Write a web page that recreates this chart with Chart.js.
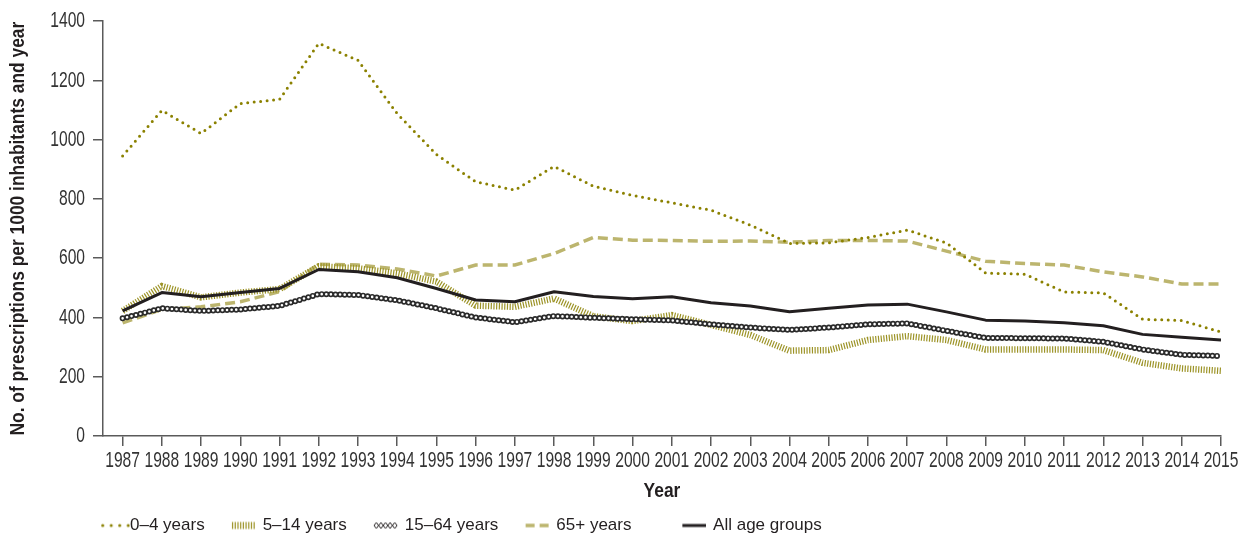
<!DOCTYPE html>
<html>
<head>
<meta charset="utf-8">
<script src="https://cdn.jsdelivr.net/npm/chart.js@4.4.1/dist/chart.umd.min.js"></script>
<style>
  html, body { margin: 0; padding: 0; background: #ffffff; }
  #wrap { width: 1245px; height: 538px; }
</style>
</head>
<body>
<div id="wrap"><canvas id="chart" width="1245" height="538"></canvas></div>
<script>
// Prescriptions per 1000 inhabitants and year, by age group
const years = [1987, 1988, 1989, 1990, 1991, 1992, 1993, 1994, 1995, 1996, 1997, 1998, 1999, 2000,
               2001, 2002, 2003, 2004, 2005, 2006, 2007, 2008, 2009, 2010, 2011, 2012, 2013, 2014, 2015];
const age0to4   = [945, 1099, 1021, 1122, 1136, 1325, 1268, 1088, 950, 858, 830, 910, 843, 812,
                   787, 762, 712, 650, 652, 670, 695, 652, 550, 546, 486, 483, 394, 390, 351];
const age5to14  = [422, 506, 468, 484, 496, 573, 566, 549, 521, 440, 436, 464, 404, 388,
                   408, 375, 341, 288, 290, 324, 337, 324, 292, 292, 292, 290, 247, 228, 220];
const age15to64 = [397, 431, 422, 427, 439, 479, 476, 458, 431, 400, 384, 405, 399, 394,
                   390, 377, 366, 358, 366, 377, 380, 355, 331, 330, 329, 318, 292, 274, 270];
const age65plus = [382, 427, 436, 453, 487, 580, 577, 564, 540, 577, 577, 616, 670, 661,
                   660, 657, 658, 654, 660, 660, 658, 624, 590, 582, 577, 554, 537, 513, 513];
const allAges   = [422, 484, 470, 484, 498, 562, 554, 534, 498, 459, 453, 487, 471, 463,
                   470, 450, 439, 419, 431, 442, 445, 419, 391, 388, 382, 372, 343, 333, 324];
const yTicks = [0, 200, 400, 600, 800, 1000, 1200, 1400];

const FONT = "'Liberation Sans', Arimo, Arial, sans-serif";
const AXIS = '#5a5a5a';
const TEXT = '#333333';
const C_DOT = '#8b8100', C_STRIPE = '#9c9326', C_DASH = '#bcb56e', C_DARK = '#231f20';

const pts = arr => years.map((yr, i) => ({ x: yr, y: arr[i] }));

// Condensed lettering: axis texts are drawn horizontally narrowed
const canvas = document.getElementById('chart');
const ctx2d = canvas.getContext('2d');
const baseFill = ctx2d.fillText.bind(ctx2d);
const baseMeasure = ctx2d.measureText.bind(ctx2d);
function squeeze() {
  const f = ctx2d.font;
  if (/bold|[6-9]00/.test(f)) return 0.87;
  const m = f.match(/(\d+(?:\.\d+)?)px/);
  if (m && parseFloat(m[1]) === 22) return 0.71;
  return 1;
}
ctx2d.measureText = function (t) {
  const m = baseMeasure(t);
  const k = squeeze();
  if (k === 1) return m;
  return { width: m.width * k,
           actualBoundingBoxAscent: m.actualBoundingBoxAscent,
           actualBoundingBoxDescent: m.actualBoundingBoxDescent,
           actualBoundingBoxLeft: m.actualBoundingBoxLeft * k,
           actualBoundingBoxRight: m.actualBoundingBoxRight * k };
};
ctx2d.fillText = function (t, x, y, mw) {
  const k = squeeze();
  if (k === 1) { if (mw === undefined) baseFill(t, x, y); else baseFill(t, x, y, mw); return; }
  const w = baseMeasure(t).width * k;
  baseFill(t, x, y, mw === undefined ? w : Math.min(w, mw));
};

// Legend glyphs: line sample right-aligned in a small transparent canvas
const SAMPLE_H = 12;
function makeSample(kind) {
  const c = document.createElement('canvas');
  c.width = kind === 'dots' ? 62 : 48; c.height = SAMPLE_H;
  const g = c.getContext('2d');
  const x1 = c.width, x0 = x1 - 24, cy = SAMPLE_H / 2;
  if (kind === 'dots') {
    g.fillStyle = C_DOT;
    for (let x = x1 - 27.5; x < x1; x += 8.5) { g.beginPath(); g.arc(x, cy, 1.5, 0, Math.PI * 2); g.fill(); }
  } else if (kind === 'stripes') {
    g.fillStyle = C_STRIPE;
    for (let x = x0; x < x1 - 1; x += 2.7) g.fillRect(x, cy - 3.5, 1.2, 7);
  } else if (kind === 'diamonds') {
    g.strokeStyle = C_DARK; g.lineWidth = 1;
    for (let x = x0; x + 4.6 <= x1; x += 4.6) {
      g.beginPath();
      g.moveTo(x, cy); g.lineTo(x + 2.3, cy - 3); g.lineTo(x + 4.6, cy); g.lineTo(x + 2.3, cy + 3); g.closePath();
      g.stroke();
    }
  } else if (kind === 'dashes') {
    g.fillStyle = C_DASH;
    g.fillRect(x0, cy - 1.75, 9, 3.5);
    g.fillRect(x0 + 14, cy - 1.75, 9, 3.5);
  } else {
    g.fillStyle = C_DARK;
    g.fillRect(x0, cy - 1.5, x1 - x0, 3);
  }
  return c;
}
const samples = {
  dots: makeSample('dots'), stripes: makeSample('stripes'), diamonds: makeSample('diamonds'),
  dashes: makeSample('dashes'), solid: makeSample('solid')
};

const datasets = [
  { label: '0–4 years', data: pts(age0to4), borderColor: C_DOT, borderWidth: 3,
    borderDash: [0, 6.5], borderCapStyle: 'round', order: 1, sample: 'dots' },
  { label: '5–14 years', data: pts(age5to14), borderColor: C_STRIPE, borderWidth: 6.5,
    borderDash: [1.2, 1.5], borderCapStyle: 'butt', order: 4, sample: 'stripes' },
  { label: '15–64 years', data: pts(age15to64), borderColor: '#2b2b2b', borderWidth: 6,
    borderDash: [0, 4.6], borderCapStyle: 'round', order: 3, sample: 'diamonds' },
  { label: '15–64 years', data: pts(age15to64), borderColor: '#ffffff', borderWidth: 2.6,
    borderDash: [0, 4.6], borderCapStyle: 'round', order: 2 },
  { label: '65+ years', data: pts(age65plus), borderColor: C_DASH, borderWidth: 3.5,
    borderDash: [10, 5], borderCapStyle: 'butt', order: 5, sample: 'dashes', wideGap: true },
  { label: 'All age groups', data: pts(allAges), borderColor: C_DARK, borderWidth: 3,
    borderJoinStyle: 'round', order: 0, sample: 'solid' }
];

// Places the legend row under the plot area, slightly lower than the default
const legendPlacement = {
  id: 'legendPlacement',
  beforeDraw(chart) {
    const lg = chart.legend;
    if (!lg) return;
    lg.left = chart.chartArea.left - 31;
    lg.top = chart.height - lg.height + 6;
    lg.bottom = lg.top + lg.height;
  }
};

new Chart(canvas, {
  type: 'line',
  data: { datasets },
  plugins: [legendPlacement],
  options: {
    responsive: false,
    animation: false,
    events: [],
    layout: { padding: { left: 3, top: 21, right: 24, bottom: 0 } },
    elements: { point: { radius: 0 }, line: { tension: 0, fill: false } },
    scales: {
      x: {
        type: 'linear', min: 1986.5, max: 2015,
        afterBuildTicks: s => { s.ticks = years.map(v => ({ value: v })); },
        afterFit: s => { s.height = 538 - 436 - (s.chart.legend ? s.chart.legend.height : 30); },
        ticks: { callback: v => String(v), autoSkip: false, maxRotation: 0, padding: 2,
                 color: TEXT, font: { family: FONT, size: 22 } },
        grid: { drawOnChartArea: false, drawTicks: true, tickLength: 10, color: AXIS, lineWidth: 1.5 },
        border: { display: true, color: AXIS, width: 1.5 },
        title: { display: true, text: 'Year', color: C_DARK,
                 font: { family: FONT, size: 20, weight: 'bold' }, padding: { top: 0, bottom: 3 } }
      },
      y: {
        min: 0, max: 1400,
        afterBuildTicks: s => { s.ticks = yTicks.map(v => ({ value: v })); },
        afterFit: s => { s.width = 100; },
        ticks: { callback: v => String(v), padding: 8, color: TEXT, font: { family: FONT, size: 22 } },
        grid: { drawOnChartArea: false, drawTicks: true, tickLength: 10, color: AXIS, lineWidth: 1.5 },
        border: { display: true, color: AXIS, width: 1.5 },
        title: { display: true, text: 'No. of prescriptions per 1000 inhabitants and year', color: C_DARK,
                 font: { family: FONT, size: 20, weight: 'bold' }, padding: { top: 3, bottom: 0 } }
      }
    },
    plugins: {
      tooltip: { enabled: false },
      legend: {
        position: 'bottom',
        align: 'start',
        labels: {
          usePointStyle: true,
          pointStyleWidth: 44.5,
          padding: 5,
          color: C_DARK,
          font: { family: FONT, size: 17 },
          generateLabels(chart) {
            return chart.data.datasets
              .map((ds, i) => ({ ds, i }))
              .filter(o => o.ds.sample)
              .map(o => ({
                // a few trailing no-break spaces widen the gap before the last entry
                text: o.ds.label + (o.ds.wideGap ? '\u00a0\u00a0\u00a0\u00a0\u00a0' : ''),
                pointStyle: samples[o.ds.sample],
                datasetIndex: o.i,
                hidden: false,
                lineWidth: 0,
                fillStyle: 'transparent',
                strokeStyle: 'transparent',
                fontColor: C_DARK
              }));
          }
        }
      }
    }
  }
});
</script>
</body>
</html>
